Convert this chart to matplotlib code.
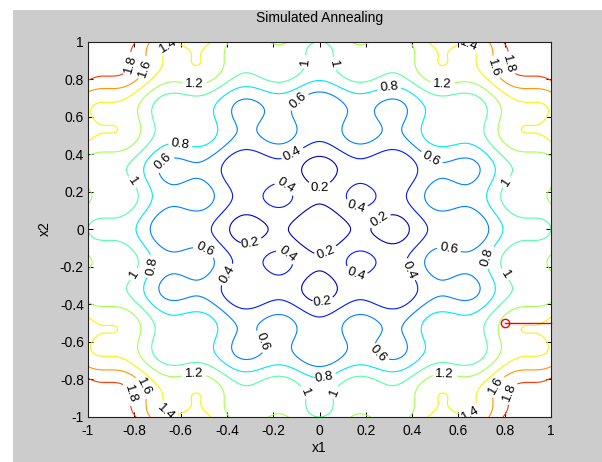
import numpy as np
import matplotlib
matplotlib.use("Agg")
import matplotlib.pyplot as plt
from matplotlib.patches import Rectangle
from matplotlib.colors import Normalize

# ---- data -------------------------------------------------------------
# objective plotted: f = offset + x1^2 + x2^2 - amp*(cos(freq*x1) + cos(freq*x2))
offset = 0.2
amp = 0.1
freq = 6 * np.pi
x1 = np.linspace(-1, 1, 201)
x2 = np.linspace(-1, 1, 201)

levels = [0.2, 0.4, 0.6, 0.8, 1.0, 1.2, 1.4, 1.6, 1.8]
ticks = [-1, -0.8, -0.6, -0.4, -0.2, 0, 0.2, 0.4, 0.6, 0.8, 1]
tick_labels = ["-1", "-0.8", "-0.6", "-0.4", "-0.2", "0", "0.2", "0.4", "0.6", "0.8", "1"]

path_x = [0.8, 1.0]
path_y = [-0.5, -0.5]
current_x = [0.8]
current_y = [-0.5]

label_positions = [
    (-0.82, 0.88), (-0.76, 0.86), (-0.65, 0.97), (-0.54, 0.77), (-0.60, 0.46),
    (-0.67, 0.35), (-0.81, 0.25), (-0.09, 0.68), (-0.06, 0.89), (-0.12, 0.41),
    (-0.15, 0.22), (0.0, 0.225), (0.16, 0.13), (0.26, 0.05), (-0.30, -0.07),
    (0.03, -0.13), (-0.15, -0.15), (0.16, -0.23), (0.38, -0.22), (-0.40, -0.24),
    (0.01, -0.39), (0.48, 0.37), (-0.50, -0.12), (0.05, 0.88), (0.30, 0.76),
    (0.53, 0.77), (0.64, 0.96), (0.75, 0.86), (0.81, 0.88), (0.81, 0.25),
    (-0.72, -0.20), (-0.80, -0.24), (-0.25, -0.60), (-0.54, -0.79), (-0.76, -0.84),
    (-0.83, -0.88), (-0.66, -0.97), (-0.07, -0.87), (0.56, -0.10), (0.73, -0.15),
    (0.79, -0.25), (0.25, -0.67), (0.02, -0.79), (0.54, -0.79), (0.07, -0.87),
    (0.77, -0.84), (0.82, -0.87), (0.64, -0.95),
]

# ---- figure -----------------------------------------------------------
plt.rcParams["font.family"] = ["Liberation Sans", "DejaVu Sans"]
fig = plt.figure(figsize=(6.02, 4.62), dpi=100, facecolor="white")
bg = Rectangle((13 / 602, 0), 1 - 13 / 602, (462 - 10) / 462,
               transform=fig.transFigure, facecolor="#cccccc",
               edgecolor="none", zorder=-10)
fig.patches.append(bg)

ax = fig.add_axes([88 / 602, (462 - 417) / 462, (551 - 88) / 602, (417 - 41.5) / 462])
ax.set_zorder(5)
ax.set_facecolor("white")

X1, X2 = np.meshgrid(x1, x2)
Z = offset + X1 ** 2 + X2 ** 2 - amp * (np.cos(freq * X1) + np.cos(freq * X2))

cs = ax.contour(X1, X2, Z, levels=levels, cmap="jet",
                norm=Normalize(vmin=0.1, vmax=2.1), linewidths=0.8)
ax.clabel(cs, manual=label_positions, inline=True, inline_spacing=3,
          fontsize=9.5, fmt="%g", colors="black")

ax.plot(path_x, path_y, color="red", linewidth=1.0, clip_on=False)
ax.plot(current_x, current_y, "o", markerfacecolor="none", markeredgecolor="red",
        markersize=6, markeredgewidth=1.0)

ax.set_xlim(-1, 1)
ax.set_ylim(-1, 1)
ax.set_xticks(ticks)
ax.set_xticklabels(tick_labels)
ax.set_yticks(ticks)
ax.set_yticklabels(tick_labels)
ax.tick_params(direction="in", length=3.5, width=0.7, top=True, right=True,
               labelsize=10, colors="black")
ax.tick_params(axis="x", pad=5)
ax.tick_params(axis="y", pad=3)
for s in ax.spines.values():
    s.set_linewidth(0.8)
    s.set_color("#202020")

fig.text(319.5 / 602, (462 - 18) / 462, "Simulated Annealing", ha="center",
         va="center", fontsize=10, zorder=6)
fig.text(319.5 / 602, (462 - 448) / 462, "x1", ha="center", va="center",
         fontsize=10, zorder=6)
fig.text(45 / 602, (462 - 229) / 462, "x2", ha="center", va="center",
         rotation=90, fontsize=10, zorder=6)

fig.savefig("out.png", dpi=100, facecolor="white")
